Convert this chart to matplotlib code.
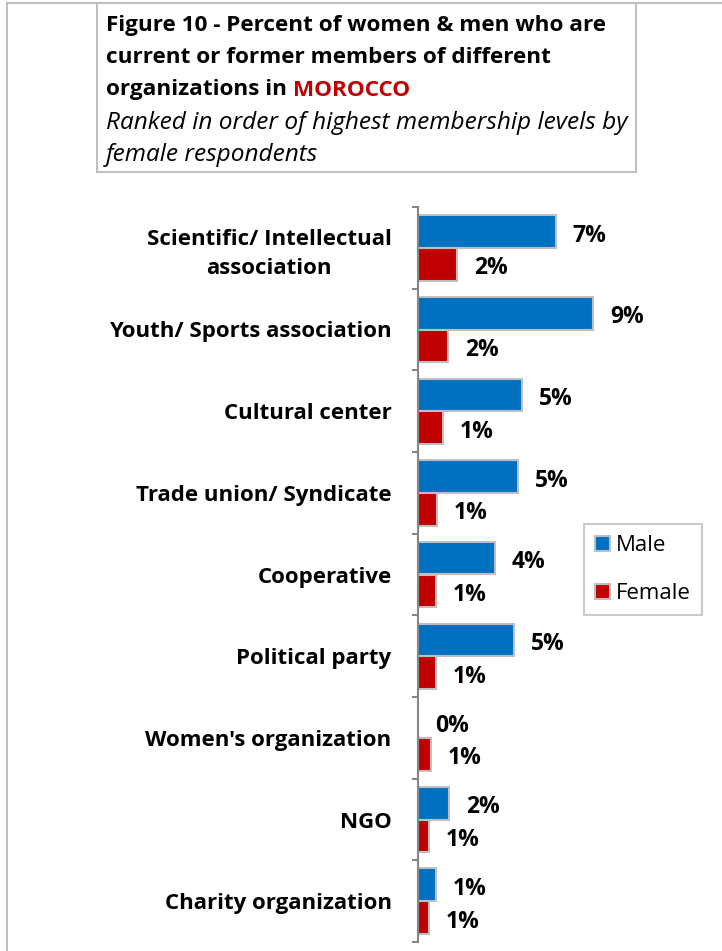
import matplotlib
matplotlib.use("Agg")
import matplotlib.pyplot as plt
from matplotlib.patches import Rectangle
from matplotlib.lines import Line2D
import numpy as np

categories = [
    "Scientific/ Intellectual\nassociation",
    "Youth/ Sports association",
    "Cultural center",
    "Trade union/ Syndicate",
    "Cooperative",
    "Political party",
    "Women's organization",
    "NGO",
    "Charity organization",
]
male = [7.05, 8.95, 5.3, 5.1, 3.95, 4.9, 0.0, 1.6, 0.9]
female = [2.0, 1.55, 1.3, 0.95, 0.9, 0.9, 0.65, 0.55, 0.55]

BLUE = "#0070C0"
RED = "#C00000"
GRAY = "#BFBFBF"
FONT = "Open Sans"

W, H = 722, 951
fig = plt.figure(figsize=(W / 100, H / 100), dpi=100)
fig.patch.set_facecolor("white")

# outer frame (top + left only)
fig.add_artist(Line2D([7 / W, 1], [1 - 3 / H, 1 - 3 / H], color=GRAY, lw=1.5))
fig.add_artist(Line2D([7 / W, 7 / W], [0, 1 - 3 / H], color=GRAY, lw=1.5))

# title box
fig.add_artist(Rectangle((97 / W, 1 - 172 / H), 539 / W, 169 / H,
                         transform=fig.transFigure, facecolor="white",
                         edgecolor=GRAY, lw=1.5))
tx = 106 / W
title_lines = [
    "Figure 10 - Percent of women & men who are",
    "current or former members of different",
    "organizations in ",
]
for i, line in enumerate(title_lines):
    t = fig.text(tx, 1 - (25 + 32.5 * i) / H, line, fontsize=16.2,
                 fontweight="bold", family=FONT, va="center", ha="left")
renderer = fig.canvas.get_renderer()
bb = t.get_window_extent(renderer=renderer)
fig.text(bb.x1 / W, 1 - (25 + 32.5 * 2) / H, "MOROCCO", fontsize=16.2,
         fontweight="bold", family=FONT, va="center", ha="left", color=RED)
fig.text(tx, 1 - 123 / H, "Ranked in order of highest membership levels by",
         fontsize=17.6, style="italic", family=FONT, va="center", ha="left")
fig.text(tx, 1 - 155 / H, "female respondents",
         fontsize=17.6, style="italic", family=FONT, va="center", ha="left")

# bar chart
ax = fig.add_axes([418 / W, 1 - 942 / H, 294 / W, 735 / H])
y = np.arange(len(categories))
h = 0.4
ax.barh(y - h / 2, male, height=h, color=BLUE, edgecolor=GRAY, lw=1.5,
        label="Male")
ax.barh(y + h / 2, female, height=h, color=RED, edgecolor=GRAY, lw=1.5,
        label="Female")

for yi, v in zip(y, male):
    ax.annotate(f"{int(v + 0.5)}%", (v, yi - h / 2), xytext=(12, -3),
                textcoords="offset points", va="center", ha="left",
                fontsize=16.5, fontweight="bold", family=FONT)
for yi, v in zip(y, female):
    ax.annotate(f"{int(v + 0.5)}%", (v, yi + h / 2), xytext=(12, -3),
                textcoords="offset points", va="center", ha="left",
                fontsize=16.5, fontweight="bold", family=FONT)

ax.set_xlim(0, 15)
ax.set_ylim(len(categories) - 0.5, -0.5)
ax.set_yticks(y)
ax.set_yticklabels(categories, fontsize=16, fontweight="bold", family=FONT,
                   linespacing=1.45)
for lbl in ax.get_yticklabels():
    lbl.set_multialignment("center")
ax.set_yticks(np.arange(len(categories) + 1) - 0.5, minor=True)
ax.tick_params(axis="y", which="major", length=0, pad=19)
ax.tick_params(axis="y", which="minor", length=4, color="#868686", width=1.5)
ax.set_xticks([])
for s in ["top", "right", "bottom"]:
    ax.spines[s].set_visible(False)
ax.spines["left"].set_color("#868686")
ax.spines["left"].set_linewidth(1.5)

leg = ax.legend(loc="upper left", bbox_to_anchor=((584 - 418) / 294, 1 - (524 - 207) / 735),
                prop={"family": FONT, "size": 16}, frameon=True, fancybox=False,
                edgecolor=GRAY, handlelength=0.65, handleheight=0.65,
                handletextpad=0.3, labelspacing=1.22, borderpad=0.5,
                borderaxespad=0)
leg.get_frame().set_linewidth(1.5)

fig.savefig("out.png", dpi=100, facecolor="white")
